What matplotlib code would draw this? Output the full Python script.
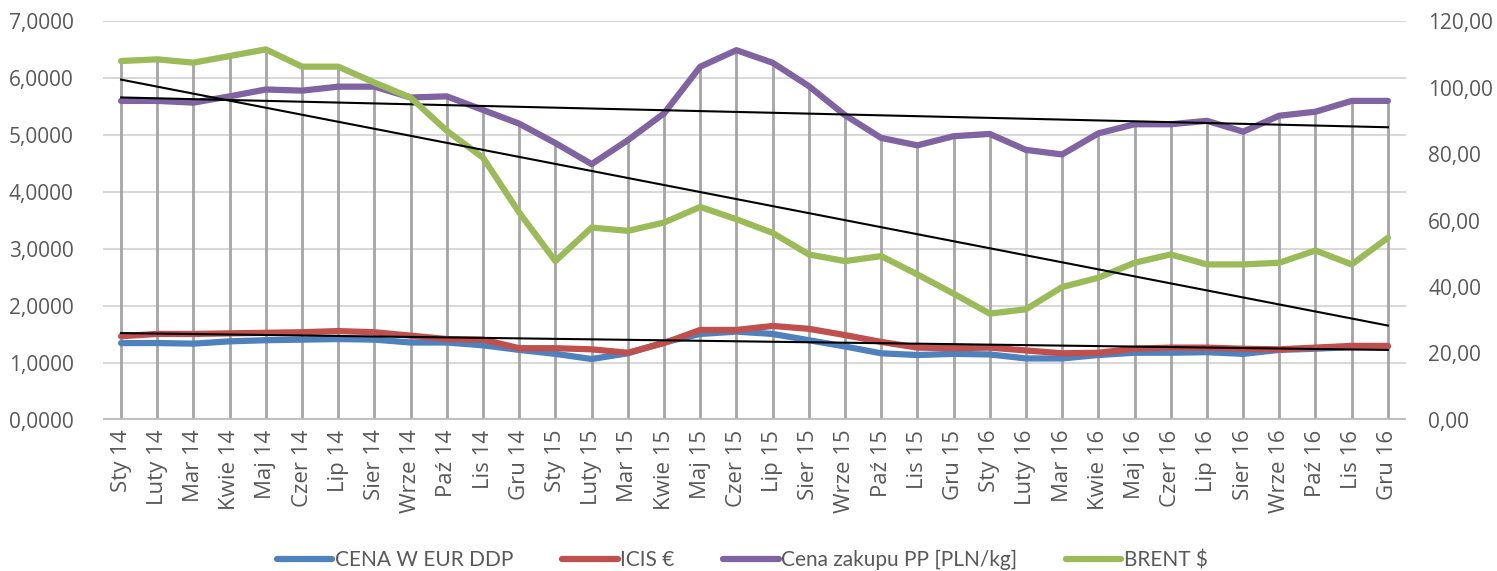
import matplotlib.pyplot as plt
import numpy as np
from matplotlib.ticker import FuncFormatter

months = ['Sty', 'Luty', 'Mar', 'Kwie', 'Maj', 'Czer', 'Lip', 'Sier', 'Wrze', 'Paź', 'Lis', 'Gru']
labels = [m + ' ' + y for y in ['14', '15', '16'] for m in months]

cena_eur = [1.35, 1.35, 1.34, 1.38, 1.40, 1.41, 1.42, 1.41, 1.36, 1.36, 1.31, 1.23,
            1.16, 1.07, 1.17, 1.36, 1.51, 1.55, 1.51, 1.40, 1.29, 1.17, 1.14, 1.16,
            1.15, 1.08, 1.08, 1.14, 1.18, 1.18, 1.19, 1.16, 1.23, 1.25, 1.28, 1.29]
icis = [1.47, 1.51, 1.51, 1.52, 1.53, 1.54, 1.56, 1.54, 1.48, 1.42, 1.41, 1.26,
        1.26, 1.24, 1.18, 1.35, 1.58, 1.58, 1.65, 1.60, 1.49, 1.37, 1.27, 1.26,
        1.27, 1.22, 1.17, 1.18, 1.25, 1.27, 1.27, 1.25, 1.24, 1.27, 1.30, 1.30]
cena_pp = [5.60, 5.60, 5.57, 5.68, 5.80, 5.78, 5.85, 5.85, 5.66, 5.68, 5.44, 5.20,
           4.86, 4.49, 4.91, 5.38, 6.20, 6.49, 6.27, 5.86, 5.35, 4.95, 4.82, 4.98,
           5.02, 4.74, 4.66, 5.03, 5.19, 5.19, 5.25, 5.06, 5.34, 5.41, 5.60, 5.60]
brent = [108.0, 108.5, 107.5, 109.5, 111.5, 106.3, 106.3, 101.5, 97.0, 87.0, 78.9, 62.4,
         47.8, 57.9, 56.9, 59.4, 64.1, 60.4, 56.3, 49.8, 47.8, 49.3, 43.8, 38.0,
         32.0, 33.3, 40.0, 42.8, 47.3, 49.8, 46.8, 46.8, 47.3, 51.0, 46.8, 54.8]

c_blue = '#4F81BD'
c_red = '#C0504D'
c_purple = '#8064A2'
c_green = '#9BBB59'
tick_col = '#595959'

x = np.arange(len(labels))

fig = plt.figure(figsize=(14.97, 5.71), dpi=100)
ax = fig.add_axes([0.0688, 0.2645, 0.8704, 0.6985])
ax2 = ax.twinx()

# drop lines from the highest point down to the axis
top = np.maximum.reduce([np.array(cena_eur), np.array(icis), np.array(cena_pp),
                         np.array(brent) * 7 / 120])
ax.vlines(x, 0, top, color='#A5A5A5', lw=2, zorder=1)

ax.set_ylim(0, 7)
ax2.set_ylim(0, 120)
ax.set_xlim(-0.5, 35.5)
ax.set_yticks(np.arange(0, 8, 1))
ax2.set_yticks(np.arange(0, 121, 20))
for v in np.arange(1, 8, 1):
    ax.axhline(v, color='#D9D9D9', lw=1.5, zorder=0)
ax.axhline(0, color='#BFBFBF', lw=3, zorder=1)

l1, = ax.plot(x, cena_eur, color=c_blue, lw=4.5, solid_capstyle='round', zorder=3)
l2, = ax.plot(x, icis, color=c_red, lw=4.5, solid_capstyle='round', zorder=3)
l3, = ax.plot(x, cena_pp, color=c_purple, lw=4.5, solid_capstyle='round', zorder=3)
l4, = ax2.plot(x, brent, color=c_green, lw=4.5, solid_capstyle='round', zorder=3)

# linear trendlines
for series, a in [(icis, ax), (cena_pp, ax), (brent, ax2)]:
    k, b = np.polyfit(x, series, 1)
    a.plot(x, k * x + b, color='black', lw=1.5, zorder=4)

ax.yaxis.set_major_formatter(FuncFormatter(lambda v, p: f'{v:.4f}'.replace('.', ',')))
ax2.yaxis.set_major_formatter(FuncFormatter(lambda v, p: f'{v:.2f}'.replace('.', ',')))
ax.set_xticks(x)
ax.set_xticklabels(labels, rotation=90)

for a in (ax, ax2):
    for s in a.spines.values():
        s.set_visible(False)
    a.tick_params(length=0, labelsize=15, labelcolor=tick_col)
    for t in a.get_yticklabels():
        t.set_family(['Open Sans', 'DejaVu Sans'])
for t in ax.get_xticklabels():
    t.set_family(['Open Sans', 'DejaVu Sans'])
    t.set_fontsize(16)
ax.tick_params(axis='y', pad=21)
ax2.tick_params(axis='y', pad=16)
ax.tick_params(axis='x', pad=7)

leg = fig.legend([l1, l2, l3, l4],
                 ['CENA W EUR DDP', 'ICIS €', 'Cena zakupu PP [PLN/kg]', 'BRENT $'],
                 loc='center', bbox_to_anchor=(0.496, 0.019), ncol=4, frameon=False,
                 handlelength=2.65, columnspacing=2.35, handletextpad=0.12,
                 prop={'family': ['Lato', 'DejaVu Sans'], 'size': 15})
for t in leg.get_texts():
    t.set_color(tick_col)

fig.savefig('out.png', dpi=100)
